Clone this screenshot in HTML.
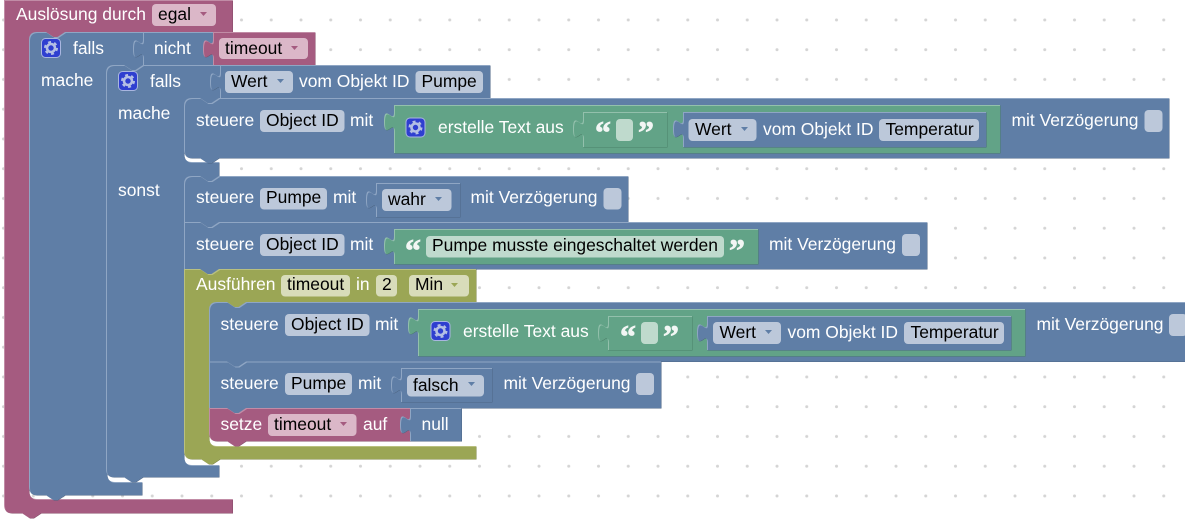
<!DOCTYPE html>
<html><head><meta charset="utf-8"><style>
html,body{margin:0;padding:0;background:#fff;width:1185px;height:522px;overflow:hidden}
svg{display:block}
text{font-family:"Liberation Sans",Arial,sans-serif;font-size:17.45px}
.w{fill:#fff}.k{fill:#000}
text.q{font-family:"Liberation Serif",serif;font-weight:bold;font-size:32px;fill:#f2f6f4;stroke:#f2f6f4;stroke-width:.7px}
.fb{fill:#bcc8da}.fp{fill:#dbb7c8}.fo{fill:#d8dcba}.fg{fill:#bfdacd}
</style></head><body>
<svg width="1185" height="522" viewBox="0 0 1185 522" xmlns="http://www.w3.org/2000/svg">
<defs>
<pattern id="dots" patternUnits="userSpaceOnUse" width="29.75" height="29.75"><circle cx="3.5" cy="20" r="1.5" fill="#d4d4d4"/></pattern>
<path id="a1" d="M4,0 H232.5 V32 H65 l-7.5,5 h-4 l-7.5,-5 H37 Q29,32 29,40 V491 Q29,499 37,499 H232.5 V513 H41 l-7.5,5 h-4 l-7.5,-5 H12 Q4,513 4,505 Z"/>
<path id="a2" d="M29,40 Q29,32 37,32 H46 l7.5,5 h4 l7.5,-5 H213 V65 H143 l-7.5,5 h-4 l-7.5,-5 H115 Q107,65 107,73 V474 Q107,482 115,482 H142 V495 H65 l-7.5,5 h-4 l-7.5,-5 H37 Q29,495 29,487 Z"/>
<path id="a3" d="M106,73 Q106,65 114,65 H124 l7.5,5 h4 l7.5,-5 H490 V98 H219 l-7.5,5 h-4 l-7.5,-5 H192 Q184,98 184,106 V154 Q184,162 192,162 H219 V176 l-7.5,5 h-4 l-7.5,-5 H192 Q184,176 184,184 V457 Q184,465 192,465 H219 V477 H143 l-7.5,5 h-4 l-7.5,-5 H114 Q106,477 106,469 Z"/>
<path id="a4" d="M184,106 Q184,98 192,98 H200 l7.5,5 h4 l7.5,-5 H1169 V158 H219 l-7.5,5 h-4 l-7.5,-5 H192 Q184,158 184,150 Z"/>
<path id="a5" d="M184,184 Q184,176 192,176 H200 l7.5,5 h4 l7.5,-5 H628 V222 H219 l-7.5,5 h-4 l-7.5,-5 H184 Z"/>
<path id="a6" d="M184,222 H200 l7.5,5 h4 l7.5,-5 H927 V269 H219 l-7.5,5 h-4 l-7.5,-5 H184 Z"/>
<path id="a7" d="M184,269 H200 l7.5,5 h4 l7.5,-5 H476 V302 H246 l-7.5,5 h-4 l-7.5,-5 H217 Q209,302 209,310 V438 Q209,446 217,446 H476 V459 H220 l-7.5,5 h-4 l-7.5,-5 H192 Q184,459 184,451 Z"/>
<path id="a8" d="M209,310 Q209,302 217,302 H227 l7.5,5 h4 l7.5,-5 H1187 V361.5 H246 l-7.5,5 h-4 l-7.5,-5 H209 Z"/>
<path id="a9" d="M209,361.5 H227 l7.5,5 h4 l7.5,-5 H661 V408 H246 l-7.5,5 h-4 l-7.5,-5 H209 Z"/>
<path id="a10" d="M209,408 H227 l7.5,5 h4 l7.5,-5 H410 V441 H246 l-7.5,5 h-4 l-7.5,-5 H217 Q209,441 209,433 Z"/>
<path id="a11" d="M410,408 H461.5 V441 H410 V434 c0,-12.5 -10,10 -10,-9.4 s10,3.1 10,-9.4 Z"/>
<path id="v1" d="M143,32 H213 V65 H143 V58 c0,-12.5 -10,10 -10,-9.4 s10,3.1 10,-9.4 Z"/>
<path id="v2" d="M213,32 H315 V65 H213 V58 c0,-12.5 -10,10 -10,-9.4 s10,3.1 10,-9.4 Z"/>
<path id="v3" d="M220,65 H490 V98 H220 V91 c0,-12.5 -10,10 -10,-9.4 s10,3.1 10,-9.4 Z"/>
<path id="v4" d="M394,105 H1000 V153 H394 V131 c0,-12.5 -10,10 -10,-9.4 s10,3.1 10,-9.4 Z"/>
<path id="v5" d="M583,112 H667 V147 H583 V138 c0,-12.5 -10,10 -10,-9.4 s10,3.1 10,-9.4 Z"/>
<path id="v6" d="M683,112 H986 V147 H683 V138 c0,-12.5 -10,10 -10,-9.4 s10,3.1 10,-9.4 Z"/>
<path id="v7" d="M376,183 H460 V217 H376 V209 c0,-12.5 -10,10 -10,-9.4 s10,3.1 10,-9.4 Z"/>
<path id="v8" d="M394,229 H758 V264 H394 V255 c0,-12.5 -10,10 -10,-9.4 s10,3.1 10,-9.4 Z"/>
<path id="v9" d="M418,309 H1025 V356 H418 V335 c0,-12.5 -10,10 -10,-9.4 s10,3.1 10,-9.4 Z"/>
<path id="v10" d="M608,316 H692 V350 H608 V342 c0,-12.5 -10,10 -10,-9.4 s10,3.1 10,-9.4 Z"/>
<path id="v11" d="M707,316 H1011 V350 H707 V342 c0,-12.5 -10,10 -10,-9.4 s10,3.1 10,-9.4 Z"/>
<path id="v12" d="M401,368 H492 V402 H401 V394 c0,-12.5 -10,10 -10,-9.4 s10,3.1 10,-9.4 Z"/>
<clipPath id="ca1"><use href="#a1"/></clipPath><clipPath id="ca2"><use href="#a2"/></clipPath><clipPath id="ca3"><use href="#a3"/></clipPath>
<clipPath id="ca4"><use href="#a4"/></clipPath><clipPath id="ca5"><use href="#a5"/></clipPath><clipPath id="ca6"><use href="#a6"/></clipPath>
<clipPath id="ca7"><use href="#a7"/></clipPath><clipPath id="ca8"><use href="#a8"/></clipPath><clipPath id="ca9"><use href="#a9"/></clipPath>
<clipPath id="ca10"><use href="#a10"/></clipPath><clipPath id="ca11"><use href="#a11"/></clipPath>
<clipPath id="cv1"><use href="#v1"/></clipPath><clipPath id="cv2"><use href="#v2"/></clipPath><clipPath id="cv3"><use href="#v3"/></clipPath>
<clipPath id="cv4"><use href="#v4"/></clipPath><clipPath id="cv5"><use href="#v5"/></clipPath><clipPath id="cv6"><use href="#v6"/></clipPath>
<clipPath id="cv7"><use href="#v7"/></clipPath><clipPath id="cv8"><use href="#v8"/></clipPath><clipPath id="cv9"><use href="#v9"/></clipPath>
<clipPath id="cv10"><use href="#v10"/></clipPath><clipPath id="cv11"><use href="#v11"/></clipPath><clipPath id="cv12"><use href="#v12"/></clipPath>
<g id="gear">
<rect x="0.5" y="0.5" width="19" height="19" rx="4" fill="#2f3fd0" stroke="#a9b6e0" stroke-width="1"/>
<circle cx="10" cy="10" r="4" fill="none" stroke="#b4bfe4" stroke-width="2.6"/>
<circle cx="10" cy="10" r="6" fill="none" stroke="#b4bfe4" stroke-width="2" stroke-dasharray="3 3.28"/>
</g>
</defs>
<rect width="1185" height="522" fill="#fff"/>
<rect width="1185" height="522" fill="url(#dots)"/>

<!-- purple outer -->
<use href="#a1" x=".5" y=".5" fill="#844966"/><use href="#a1" fill="#c18ca6"/><g clip-path="url(#ca1)"><use href="#a1" x="1" y="1" fill="#a55b80"/></g>
<!-- outer falls -->
<use href="#a2" x=".5" y=".5" fill="#4c6585"/><use href="#a2" fill="#8fa6c4"/><g clip-path="url(#ca2)"><use href="#a2" x="1" y="1" fill="#5f7ea6"/></g>
<use href="#v1" x=".5" y=".5" fill="#4c6585"/><use href="#v1" fill="#8fa6c4"/><g clip-path="url(#cv1)"><use href="#v1" x="1" y="1" fill="#5f7ea6"/></g>
<use href="#v2" x=".5" y=".5" fill="#844966"/><use href="#v2" fill="#c18ca6"/><g clip-path="url(#cv2)"><use href="#v2" x="1" y="1" fill="#a55b80"/></g>
<!-- inner falls -->
<use href="#a3" x=".5" y=".5" fill="#4c6585"/><use href="#a3" fill="#8fa6c4"/><g clip-path="url(#ca3)"><use href="#a3" x="1" y="1" fill="#5f7ea6"/></g>
<use href="#v3" x=".5" y=".5" fill="#4c6585"/><use href="#v3" fill="#8fa6c4"/><g clip-path="url(#cv3)"><use href="#v3" x="1" y="1" fill="#5f7ea6"/></g>
<!-- steuere 1 -->
<use href="#a4" x=".5" y=".5" fill="#4c6585"/><use href="#a4" fill="#8fa6c4"/><g clip-path="url(#ca4)"><use href="#a4" x="1" y="1" fill="#5f7ea6"/></g>
<use href="#v4" x=".5" y=".5" fill="#4a8068"/><use href="#v4" fill="#93c0ac"/><g clip-path="url(#cv4)"><use href="#v4" x="1" y="1" fill="#62a387"/></g>
<use href="#v5" x=".5" y=".5" fill="#4a8068"/><use href="#v5" fill="#93c0ac"/><g clip-path="url(#cv5)"><use href="#v5" x="1" y="1" fill="#62a387"/></g>
<use href="#v6" x=".5" y=".5" fill="#4c6585"/><use href="#v6" fill="#8fa6c4"/><g clip-path="url(#cv6)"><use href="#v6" x="1" y="1" fill="#5f7ea6"/></g>
<!-- steuere 2 -->
<use href="#a5" x=".5" y=".5" fill="#4c6585"/><use href="#a5" fill="#8fa6c4"/><g clip-path="url(#ca5)"><use href="#a5" x="1" y="1" fill="#5f7ea6"/></g>
<use href="#v7" x=".5" y=".5" fill="#4c6585"/><use href="#v7" fill="#8fa6c4"/><g clip-path="url(#cv7)"><use href="#v7" x="1" y="1" fill="#5f7ea6"/></g>
<!-- steuere 3 -->
<use href="#a6" x=".5" y=".5" fill="#4c6585"/><use href="#a6" fill="#8fa6c4"/><g clip-path="url(#ca6)"><use href="#a6" x="1" y="1" fill="#5f7ea6"/></g>
<use href="#v8" x=".5" y=".5" fill="#4a8068"/><use href="#v8" fill="#93c0ac"/><g clip-path="url(#cv8)"><use href="#v8" x="1" y="1" fill="#62a387"/></g>
<!-- olive -->
<use href="#a7" x=".5" y=".5" fill="#7c8544"/><use href="#a7" fill="#b9c07f"/><g clip-path="url(#ca7)"><use href="#a7" x="1" y="1" fill="#9ba655"/></g>
<!-- steuere 4 -->
<use href="#a8" x=".5" y=".5" fill="#4c6585"/><use href="#a8" fill="#8fa6c4"/><g clip-path="url(#ca8)"><use href="#a8" x="1" y="1" fill="#5f7ea6"/></g>
<use href="#v9" x=".5" y=".5" fill="#4a8068"/><use href="#v9" fill="#93c0ac"/><g clip-path="url(#cv9)"><use href="#v9" x="1" y="1" fill="#62a387"/></g>
<use href="#v10" x=".5" y=".5" fill="#4a8068"/><use href="#v10" fill="#93c0ac"/><g clip-path="url(#cv10)"><use href="#v10" x="1" y="1" fill="#62a387"/></g>
<use href="#v11" x=".5" y=".5" fill="#4c6585"/><use href="#v11" fill="#8fa6c4"/><g clip-path="url(#cv11)"><use href="#v11" x="1" y="1" fill="#5f7ea6"/></g>
<!-- steuere 5 -->
<use href="#a9" x=".5" y=".5" fill="#4c6585"/><use href="#a9" fill="#8fa6c4"/><g clip-path="url(#ca9)"><use href="#a9" x="1" y="1" fill="#5f7ea6"/></g>
<use href="#v12" x=".5" y=".5" fill="#4c6585"/><use href="#v12" fill="#8fa6c4"/><g clip-path="url(#cv12)"><use href="#v12" x="1" y="1" fill="#5f7ea6"/></g>
<!-- setze / null -->
<use href="#a10" x=".5" y=".5" fill="#844966"/><use href="#a10" fill="#c18ca6"/><g clip-path="url(#ca10)"><use href="#a10" x="1" y="1" fill="#a55b80"/></g>
<use href="#a11" x=".5" y=".5" fill="#4c6585"/><use href="#a11" fill="#8fa6c4"/><g clip-path="url(#ca11)"><use href="#a11" x="1" y="1" fill="#5f7ea6"/></g>

<!-- row 0 -->
<text class="w" x="16" y="20">Auslösung durch</text>
<rect class="fp" x="152" y="4" width="64" height="22" rx="4"/><text class="k" x="158" y="20">egal</text><path d="M200,12 h7 l-3.5,4 z" fill="#a55b80"/>
<!-- row 1 -->
<use href="#gear" x="41" y="38"/>
<text class="w" x="73" y="54">falls</text>
<text class="w" x="154" y="54">nicht</text>
<rect class="fp" x="219" y="38" width="89" height="21" rx="4"/><text class="k" x="225" y="54">timeout</text><path d="M291,46 h7 l-3.5,4 z" fill="#a55b80"/>
<text class="w" x="41" y="86">mache</text>
<!-- row 2 -->
<use href="#gear" x="118" y="71"/>
<text class="w" x="150" y="87">falls</text>
<rect class="fb" x="225" y="71" width="68" height="22" rx="4"/><text class="k" x="231" y="87">Wert</text><path d="M277,79 h7 l-3.5,4 z" fill="#5f7ea6"/>
<text class="w" x="299" y="87">vom Objekt ID</text>
<rect class="fb" x="415.5" y="71" width="67.5" height="22" rx="4"/><text class="k" x="421.5" y="87">Pumpe</text>
<text class="w" x="118" y="119">mache</text>
<text class="w" x="118" y="196">sonst</text>
<!-- steuere 1 -->
<text class="w" x="196" y="126">steuere</text>
<rect class="fb" x="260" y="110" width="84.5" height="22" rx="4"/><text class="k" x="266" y="126">Object ID</text>
<text class="w" x="350" y="126">mit</text>
<use href="#gear" x="405.5" y="117.5"/>
<text class="w" x="438" y="133">erstelle Text aus</text>
<text class="q" x="595" y="143">“</text>
<rect class="fg" x="616" y="119" width="17" height="22" rx="4"/>
<text class="q" x="638" y="143">”</text>
<rect class="fb" x="688.5" y="119" width="68" height="22" rx="4"/><text class="k" x="695" y="135">Wert</text><path d="M741,127 h7 l-3.5,4 z" fill="#5f7ea6"/>
<text class="w" x="763" y="135">vom Objekt ID</text>
<rect class="fb" x="879" y="119" width="100" height="22" rx="4"/><text class="k" x="885.5" y="135">Temperatur</text>
<text class="w" x="1011.5" y="126">mit Verzögerung</text>
<rect class="fb" x="1144.5" y="110" width="18" height="22" rx="4"/>
<!-- steuere 2 -->
<text class="w" x="196" y="203">steuere</text>
<rect class="fb" x="260" y="188" width="67" height="21.5" rx="4"/><text class="k" x="266" y="203">Pumpe</text>
<text class="w" x="333" y="203">mit</text>
<rect class="fb" x="382" y="189" width="69.5" height="22" rx="4"/><text class="k" x="388" y="205">wahr</text><path d="M435,197 h7 l-3.5,4 z" fill="#5f7ea6"/>
<text class="w" x="470.5" y="203">mit Verzögerung</text>
<rect class="fb" x="603.5" y="188" width="18" height="21.5" rx="4"/>
<!-- steuere 3 -->
<text class="w" x="196" y="250">steuere</text>
<rect class="fb" x="260" y="234" width="84.5" height="22" rx="4"/><text class="k" x="266" y="250">Object ID</text>
<text class="w" x="350" y="250">mit</text>
<text class="q" x="405" y="261">“</text>
<rect class="fg" x="426" y="236" width="298" height="21.5" rx="4"/><text class="k" x="432" y="251">Pumpe musste eingeschaltet werden</text>
<text class="q" x="729" y="261">”</text>
<text class="w" x="769" y="250">mit Verzögerung</text>
<rect class="fb" x="902" y="234" width="18" height="22" rx="4"/>
<!-- ausfuehren -->
<text class="w" x="196" y="290">Ausführen</text>
<rect class="fo" x="281" y="275" width="69" height="21.5" rx="4"/><text class="k" x="287" y="290">timeout</text>
<text class="w" x="356" y="290">in</text>
<rect class="fo" x="376" y="275" width="21" height="21.5" rx="4"/><text class="k" x="382" y="290">2</text>
<rect class="fo" x="409" y="275" width="60" height="21.5" rx="4"/><text class="k" x="415" y="290">Min</text><path d="M451,283 h7 l-3.5,4 z" fill="#9ba655"/>
<!-- steuere 4 -->
<text class="w" x="220.5" y="330">steuere</text>
<rect class="fb" x="285" y="314" width="84.5" height="22" rx="4"/><text class="k" x="291" y="330">Object ID</text>
<text class="w" x="375" y="330">mit</text>
<use href="#gear" x="430.5" y="321"/>
<text class="w" x="463" y="337">erstelle Text aus</text>
<text class="q" x="620" y="347">“</text>
<rect class="fg" x="641" y="322" width="17" height="22" rx="4"/>
<text class="q" x="663" y="347">”</text>
<rect class="fb" x="713" y="322" width="68" height="22" rx="4"/><text class="k" x="719.5" y="338">Wert</text><path d="M765,330 h7 l-3.5,4 z" fill="#5f7ea6"/>
<text class="w" x="787.5" y="338">vom Objekt ID</text>
<rect class="fb" x="904" y="322" width="100" height="22" rx="4"/><text class="k" x="910.5" y="338">Temperatur</text>
<text class="w" x="1036.5" y="330">mit Verzögerung</text>
<rect class="fb" x="1169" y="314" width="18" height="22" rx="4"/>
<!-- steuere 5 -->
<text class="w" x="220.5" y="389">steuere</text>
<rect class="fb" x="285" y="373" width="67" height="22" rx="4"/><text class="k" x="291" y="389">Pumpe</text>
<text class="w" x="358" y="389">mit</text>
<rect class="fb" x="407" y="375" width="77" height="21.5" rx="4"/><text class="k" x="413" y="391">falsch</text><path d="M468,382 h7 l-3.5,4 z" fill="#5f7ea6"/>
<text class="w" x="503.5" y="389">mit Verzögerung</text>
<rect class="fb" x="636" y="373" width="18" height="22" rx="4"/>
<!-- setze -->
<text class="w" x="220.5" y="430">setze</text>
<rect class="fp" x="268" y="414" width="88.5" height="22" rx="4"/><text class="k" x="274" y="430">timeout</text><path d="M340,422 h7 l-3.5,4 z" fill="#a55b80"/>
<text class="w" x="363" y="430">auf</text>
<text class="w" x="421.5" y="430">null</text>
</svg>
</body></html>
